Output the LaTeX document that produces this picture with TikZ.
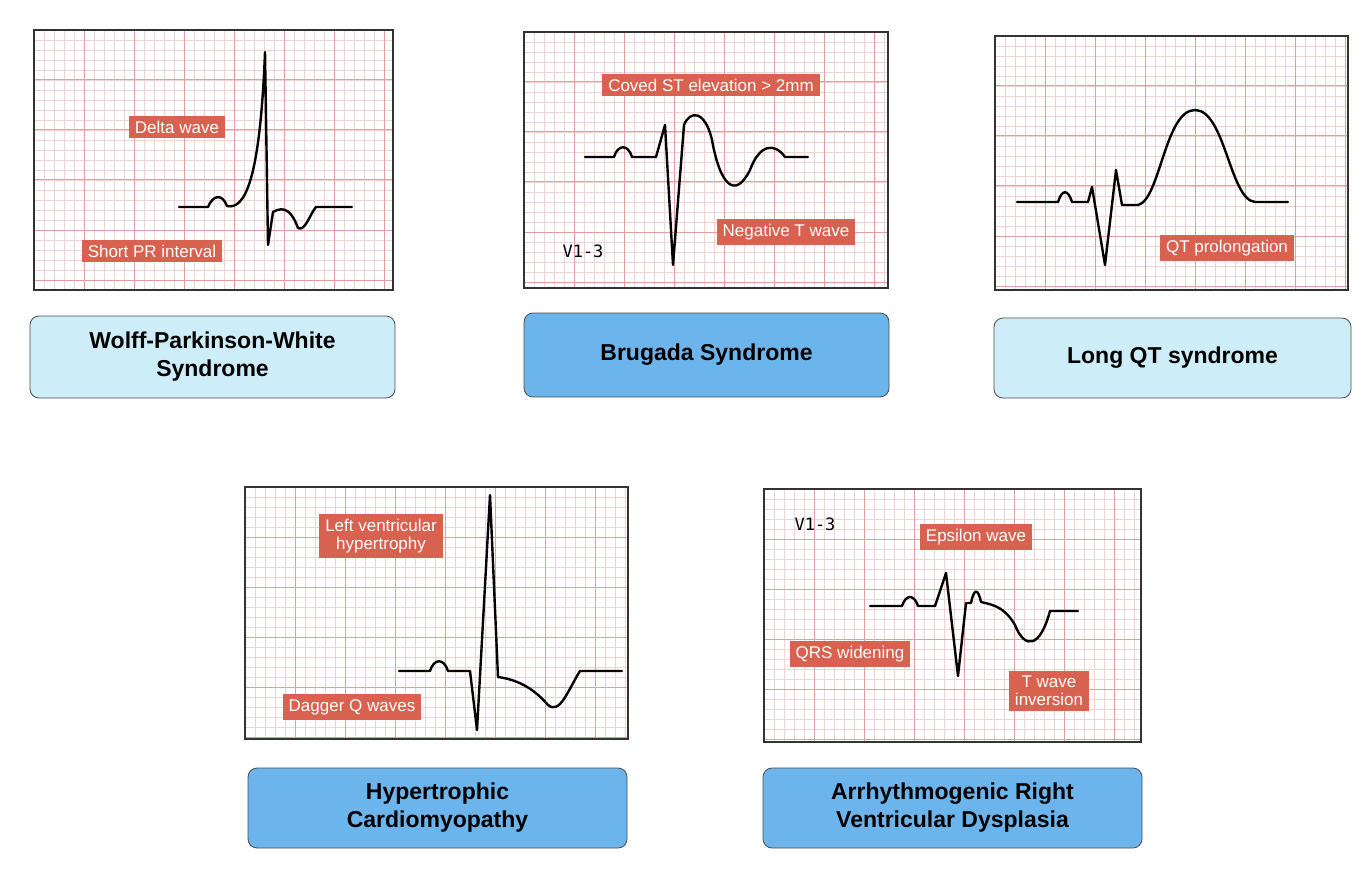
\documentclass[tikz,border=0pt]{standalone}
\usepackage{fontspec}
\setmainfont{Liberation Sans}
\setmonofont{DejaVu Sans Mono}
\begin{document}
\definecolor{minor}{HTML}{F2D3D3}
\definecolor{major}{HTML}{E0A0A0}
\definecolor{lab}{HTML}{D9614F}
\definecolor{lblue}{HTML}{CDEDF9}
\definecolor{dblue}{HTML}{6CB4EC}
\begin{tikzpicture}[x=1pt,y=-1pt,
  lbl/.style={fill=lab,text=white,font=\fontsize{17}{19}\selectfont,inner xsep=6pt,inner ysep=5pt,align=center},
  ttl/.style={rounded corners=9pt,draw=black!70,line width=0.8pt,font=\bfseries\fontsize{23}{28}\selectfont,align=center},
  ecg/.style={line width=2.4pt,line join=round,line cap=round},
  v13/.style={font=\ttfamily\fontsize{17}{19}\selectfont}]
\useasboundingbox (0,0) rectangle (1370,896);
\foreach \a/\b/\c/\d in {34/30/393/290, 524/32/888/288, 995/36/1348/290, 245/487/628/739, 764/489/1141/742}{
  \begin{scope}
  \clip (\a,\b) rectangle (\c,\d);
  \foreach \x in {0,10,...,400} \draw[minor,line width=0.7pt] (\a+\x,\b) -- (\a+\x,\d);
  \foreach \y in {0,10,...,270} \draw[minor,line width=0.7pt] (\a,\b+\y) -- (\c,\b+\y);
  \foreach \x in {0,50,...,400} \draw[major,line width=1pt] (\a+\x,\b) -- (\a+\x,\d);
  \foreach \y in {0,50,...,270} \draw[major,line width=1pt] (\a,\b+\y) -- (\c,\b+\y);
  \end{scope}
  \draw[black!80,line width=1.6pt] (\a,\b) rectangle (\c,\d);
}
% WPW
\draw[ecg] (179,207) -- (208,207) .. controls (213,195) and (222,193) .. (227,206)
  .. controls (245,210) and (260,180) .. (265,52) -- (268,245) -- (273,212)
  .. controls (285,205) and (292,212) .. (298,228) .. controls (305,232) and (310,214) .. (316,207) -- (352,207);
\node[lbl] (w1) at (177,127) {Delta wave};
\node[lbl] (w2) at (152,251) {Short PR interval};
% Brugada
\draw[ecg] (585,157) -- (614,157) .. controls (618,144) and (628,144) .. (632,157) -- (656,157)
  -- (665,125) -- (673,265) -- (684,125) .. controls (690,110) and (705,110) .. (712,140)
  .. controls (720,185) and (735,200) .. (750,170) .. controls (760,143) and (775,143) .. (785,157) -- (808,157);
\node[lbl] (b1) at (711,85) {Coved ST elevation > 2mm};
\node[lbl] (b2) at (786,232) {Negative T wave};
\node[v13] (b3) at (583,251) {V1-3};
% Long QT
\draw[ecg] (1017,202) -- (1058,202) .. controls (1062,189) and (1068,189) .. (1072,202) -- (1088,202)
  -- (1092,187) -- (1105,265) -- (1116,170) -- (1122,205) -- (1138,205)
  .. controls (1160,200) and (1165,110) .. (1195,110) .. controls (1225,110) and (1230,200) .. (1255,202) -- (1288,202);
\node[lbl] (q1) at (1227,248) {QT prolongation};
% HCM
\draw[ecg] (399,671) -- (430,671) .. controls (434,658) and (444,658) .. (448,671) -- (470,671)
  -- (477,730) -- (490,495) -- (498,677) .. controls (520,680) and (535,690) .. (548,705)
  .. controls (560,715) and (568,690) .. (580,671) -- (622,671);
\node[lbl] (h1) at (381,536) {Left ventricular\\[-1pt]hypertrophy};
\node[lbl] (h2) at (352,707) {Dagger Q waves};
% ARVD
\draw[ecg] (870,606) -- (902,606) .. controls (906,594) and (914,594) .. (918,606) -- (935,606)
  -- (946,573) -- (958,676) -- (966,603) -- (971,603) .. controls (974,588) and (978,588) .. (981,602)
  .. controls (995,605) and (1005,608) .. (1015,625) .. controls (1025,650) and (1040,648) .. (1050,611) -- (1078,611);
\node[lbl] (a1) at (976,537) {Epsilon wave};
\node[lbl] (a2) at (850,654) {QRS widening};
\node[lbl] (a3) at (1049,691) {T wave\\[-1pt]inversion};
\node[v13] (a4) at (815,524) {V1-3};
% titles
\node[ttl,fill=lblue,minimum width=365pt,minimum height=82pt] (t1) at (212.5,357) {Wolff-Parkinson-White\\Syndrome};
\node[ttl,fill=dblue,minimum width=365pt,minimum height=84pt] (t2) at (706.5,355) {Brugada Syndrome};
\node[ttl,fill=lblue,minimum width=357pt,minimum height=80pt] (t3) at (1172.5,358) {Long QT syndrome};
\node[ttl,fill=dblue,minimum width=379pt,minimum height=80pt] (t4) at (437.5,808) {Hypertrophic\\Cardiomyopathy};
\node[ttl,fill=dblue,minimum width=379pt,minimum height=80pt] (t5) at (952.5,808) {Arrhythmogenic Right\\Ventricular Dysplasia};
\end{tikzpicture}
\end{document}
